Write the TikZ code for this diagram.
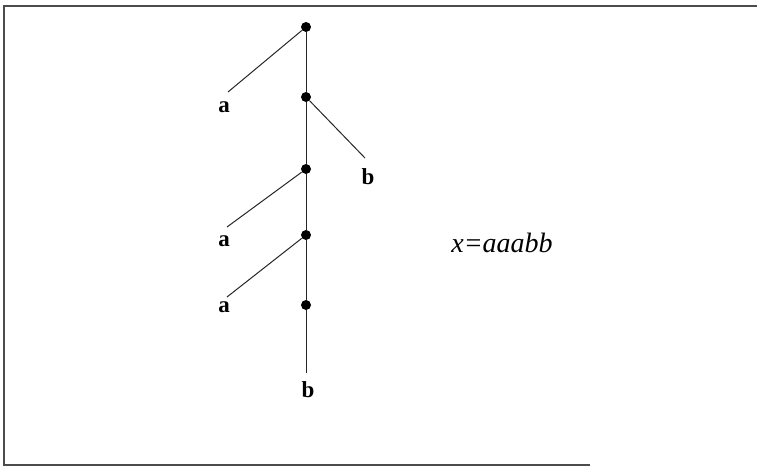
\documentclass[tikz,border=0pt]{standalone}
\usepackage{fontspec}
\setmainfont{Liberation Serif}
\usepackage{tikz}
\usetikzlibrary{positioning}
\tikzset{
  dot/.style={circle, fill=black, inner sep=0pt, minimum size=5pt},
  edge/.style={draw=black!85, line width=0.5pt},
  leaf/.style={font=\fontsize{11.5}{13}\selectfont\bfseries, inner sep=0pt},
  word/.style={font=\fontsize{14}{16}\selectfont\itshape, inner sep=0pt},
  frame/.style={draw=black!70, line width=0.6pt},
}
\begin{document}
\begin{tikzpicture}[x=0.5pt, y=-0.5pt]
  \useasboundingbox (0,0) rectangle (757,468);

  % scanned frame
  \draw[frame] (757,6) -- (4,6) -- (4,465) -- (590,465);

  % spine
  \node[dot] (v1) at (306,27) {};
  \node[dot] (v2) at (306,97) {};
  \node[dot] (v3) at (306,169) {};
  \node[dot] (v4) at (306,235) {};
  \node[dot] (v5) at (306,305) {};

  % free ends
  \coordinate (t1) at (228,92);
  \coordinate (t2) at (365,158);
  \coordinate (t3) at (227,227);
  \coordinate (t4) at (227,297);
  \coordinate (t5) at (306,373);

  % leaves
  \node[leaf] (la1) at (224,107) {a};
  \node[leaf] (lb1) at (368,177) {b};
  \node[leaf] (la2) at (224,241) {a};
  \node[leaf] (la3) at (224,307) {a};
  \node[leaf] (lb2) at (308,390) {b};

  \node[word] (wrd) at (502,243) {x=aaabb};

  % branches
  \draw[edge] (v1) -- (v2);
  \draw[edge] (v2) -- (v3);
  \draw[edge] (v3) -- (v4);
  \draw[edge] (v4) -- (v5);
  \draw[edge] (v5) -- (t5);
  \draw[edge] (v1) -- (t1);
  \draw[edge] (v2) -- (t2);
  \draw[edge] (v3) -- (t3);
  \draw[edge] (v4) -- (t4);

\end{tikzpicture}
\end{document}
